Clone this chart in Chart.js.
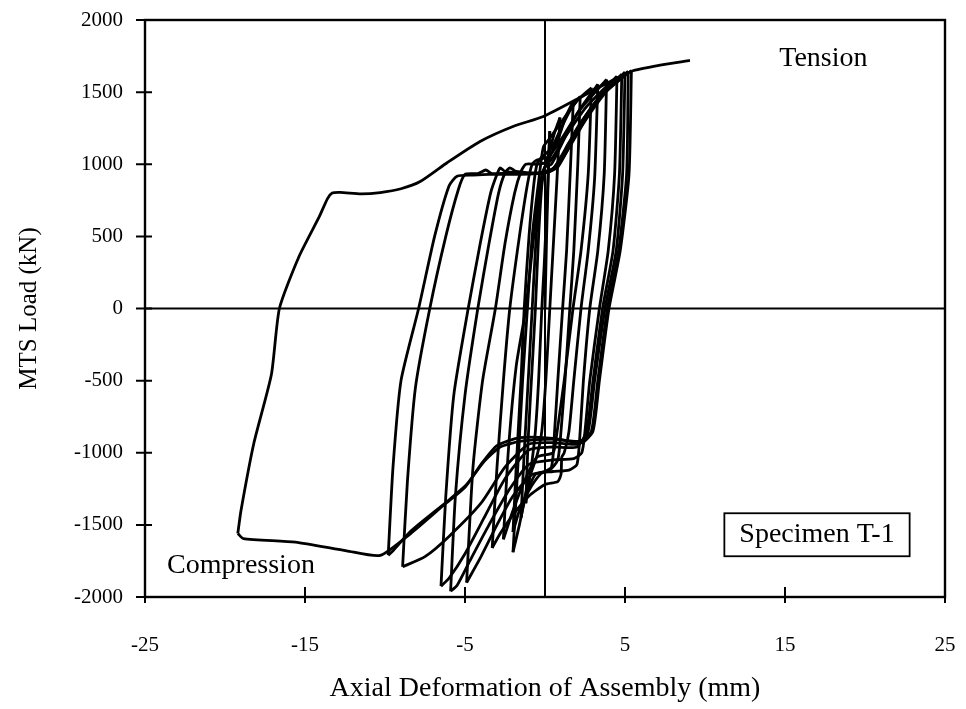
<!DOCTYPE html>
<html><head><meta charset="utf-8">
<script src="https://cdn.jsdelivr.net/npm/chart.js@4/dist/chart.umd.min.js"></script>
<style>html,body{margin:0;padding:0;background:#fff}</style>
</head><body>
<canvas id="c" width="966" height="709"></canvas>
<script>
// axis ticks
const xTicks = [-25, -15, -5, 5, 15, 25];
const yTicks = [-2000, -1500, -1000, -500, 0, 500, 1000, 1500, 2000];

// test record: [deformation (mm), load (kN)] per half cycle
const half01 = [[0,0],[0.1,500],[0.2,900],[0.25,1100],[0.3,1230]];
const half02 = [[0.3,1230],[0.15,800],[-0.05,300],[-0.2,0],[-0.4,-500],[-0.6,-850],[-0.8,-1050],[-1.0,-1200],[-1.2,-1350]];
const half03 = [[-1.2,-1350],[-1.05,-900],[-0.8,-400],[-0.6,0],[-0.4,500],[-0.2,850],[0,980],[0.3,1100],[0.6,1220],[0.94,1324]];
const half04 = [[0.94,1324],[0.75,900],[0.5,400],[0.3,0],[0.05,-500],[-0.2,-850],[-0.5,-1020],[-0.9,-1150],[-1.25,-1300],[-1.5,-1450]];
const half05 = [[-1.5,-1450],[-1.3,-1000],[-1.0,-400],[-0.8,0],[-0.55,500],[-0.3,850],[-0.1,960],[0.3,1050],[0.9,1200],[1.3,1330],[1.77,1438]];
const half06 = [[1.77,1438],[1.6,1000],[1.35,400],[1.1,0],[0.8,-500],[0.6,-850],[0.4,-1100],[-0.3,-1150],[-1.0,-1260],[-1.6,-1400],[-2.0,-1550]];
const half07 = [[-2.0,-1550],[-1.8,-1100],[-1.5,-500],[-1.3,0],[-1.0,500],[-0.7,860],[-0.5,1000],[-0.2,1050],[0.4,1110],[1.0,1250],[1.6,1380],[2.2,1470]];
const half08 = [[2.2,1470],[2.05,1000],[1.8,400],[1.55,0],[1.25,-500],[1.0,-850],[0.8,-1050],[0.3,-1120],[-0.6,-1150],[-1.2,-1300],[-1.6,-1500],[-2.0,-1690]];
const half09 = [[-2.0,-1690],[-1.7,-1100],[-1.4,-500],[-1.1,0],[-0.8,500],[-0.4,880],[-0.1,1120],[0.3,1180],[1.0,1290],[2.0,1440],[2.9,1530]];
const half10 = [[2.9,1530],[2.7,930],[2.25,400],[1.75,0],[1.2,-500],[0.73,-874],[0.5,-1000],[-0.5,-1030],[-1.3,-1200],[-2.0,-1400],[-2.6,-1600]];
const half11 = [[-2.6,-1600],[-2.3,-1000],[-1.8,-400],[-1.2,0],[-0.7,500],[-0.3,850],[0,980],[0.4,1000],[1.0,1130],[2.0,1350],[3.3,1555]];
const half12 = [[3.3,1555],[3.1,900],[2.7,400],[2.25,0],[1.8,-500],[1.5,-850],[1.2,-1000],[1.05,-1030],[1.0,-1150],[0.8,-1200],[0,-1220],[-1.0,-1300],[-2.0,-1430],[-2.8,-1560],[-3.3,-1660]];
const half13 = [[-3.3,-1660],[-3.0,-1100],[-2.6,-500],[-2.2,0],[-1.6,500],[-1.1,860],[-0.8,1000],[-0.5,1030],[0.2,1050],[1.0,1170],[2.2,1380],[3.85,1588]];
const half14 = [[3.85,1588],[3.7,930],[3.3,400],[2.8,0],[2.4,-500],[2.2,-850],[2.0,-1080],[1.5,-1120],[0.5,-1130],[-0.8,-1150],[-2,-1300],[-3,-1500],[-4,-1720],[-4.9,-1900]];
const half15 = [[-4.9,-1900],[-4.5,-1100],[-3.9,-500],[-3.1,0],[-2.5,450],[-1.9,800],[-1.5,950],[-1.2,1000],[-0.5,1000],[0.3,1020],[1.2,1180],[2.6,1400],[4.5,1610]];
const half16 = [[4.5,1610],[4.35,930],[3.95,400],[3.4,0],[2.8,-500],[2.5,-850],[2.3,-1000],[1.8,-1040],[0.5,-1050],[-1,-1080],[-2.2,-1250],[-3.5,-1500],[-4.7,-1750],[-5.5,-1920],[-5.9,-1960]];
const half17 = [[-5.9,-1960],[-5.6,-1300],[-5.0,-600],[-4.2,0],[-3.5,450],[-2.9,800],[-2.5,940],[-2.2,975],[-1.8,950],[-0.5,940],[0.5,970],[1.5,1150],[3,1410],[4.8,1625]];
const half18 = [[4.8,1625],[4.65,930],[4.25,400],[3.6,0],[3.0,-500],[2.6,-850],[2.0,-960],[0.5,-960],[-1,-980],[-2.5,-1180],[-3.8,-1450],[-5.0,-1700],[-6.0,-1870],[-6.5,-1925]];
const half19 = [[-6.5,-1925],[-6.2,-1300],[-5.7,-600],[-4.8,0],[-4.06,444],[-3.4,800],[-3.0,930],[-2.8,975],[-2.5,950],[-1,935],[0.3,950],[1.2,1060],[2.5,1300],[3.8,1500],[5.0,1640]];
const half20 = [[5.0,1640],[4.85,930],[4.45,400],[3.75,0],[3.1,-500],[2.7,-850],[2.1,-940],[0.5,-930],[-1,-940],[-2.5,-1100],[-4,-1350],[-6,-1580],[-7.5,-1720],[-8.9,-1790]];
const half21 = [[-8.9,-1790],[-8.6,-1200],[-8.1,-550],[-7.2,0],[-6.2,500],[-5.4,830],[-5.0,930],[-4.2,935],[-3.7,960],[-3.3,935],[-2,940],[0,940],[0.8,1000],[2,1250],[3.5,1480],[5.2,1645]];
const half22 = [[5.2,1645],[5.1,930],[4.6,400],[3.9,0],[3.3,-500],[2.9,-850],[2.2,-920],[0.5,-905],[-1.5,-920],[-2.8,-960],[-3.8,-1060],[-4.9,-1220],[-6.1,-1336],[-8.4,-1544],[-9.5,-1680],[-9.8,-1710]];
const half23 = [[-9.8,-1710],[-9.5,-1100],[-9.0,-500],[-7.9,0],[-6.9,500],[-6.0,850],[-5.5,917],[-4.5,925],[-3.5,930],[-1.5,930],[0,940],[0.8,980],[2,1220],[3.5,1470],[5.4,1650]];
const half24 = [[5.4,1650],[5.25,930],[4.7,400],[4.0,0],[3.4,-500],[3.0,-850],[2.3,-930],[0.5,-900],[-1.56,-895],[-3.0,-950],[-4.0,-1080],[-5.0,-1240],[-6.3,-1360],[-8.4,-1560],[-10.3,-1712],[-12.4,-1680],[-15.6,-1620],[-18.85,-1595],[-19.2,-1560]];
const half25 = [[-19.2,-1560],[-19.0,-1400],[-18.2,-936],[-17.1,-458],[-16.6,0],[-15.4,354],[-14.1,638],[-13.6,760],[-13.3,800],[-12.8,805],[-11.5,795],[-10.3,804],[-9,830],[-7.8,880],[-6.1,1012],[-4.06,1158],[-2,1262],[-0.1,1331],[2.2,1463],[4,1570],[5.4,1645],[7.2,1687],[9.06,1720]];

const halfCycles = [half01,half02,half03,half04,half05,half06,half07,half08,half09,half10,half11,half12,half13,half14,half15,half16,half17,half18,half19,half20,half21,half22,half23,half24,half25];

// reference lines (zero axes) and annotation texts
const zeroV = [[0,-2000],[0,2000]];
const zeroH = [[-25,0],[25,0]];
const labelTension = {text:'Tension', x:17.4, y:1735};
const labelCompression = {text:'Compression', x:-19.0, y:-1780};
const labelSpecimen = {text:'Specimen T-1', x:17.0, y:-1565};

const FONT = '"Liberation Serif", "Times New Roman", serif';

const datasets = halfCycles.map(h => ({
  data: h.map(p => ({x:p[0], y:p[1]})),
  showLine: true, borderColor:'#000', borderWidth:2.8, pointRadius:0, tension:0.2, fill:false
}));
[zeroV, zeroH].forEach(z => datasets.push({
  data: z.map(p => ({x:p[0], y:p[1]})),
  showLine:true, borderColor:'#000', borderWidth:2, pointRadius:0, tension:0
}));

const decor = {
  id:'decor',
  beforeDatasetsDraw(chart){
    const {ctx, chartArea:a, scales:{x,y}} = chart;
    ctx.save();
    ctx.strokeStyle='#000';
    ctx.lineWidth=2.4;
    ctx.strokeRect(a.left, a.top, a.right-a.left, a.bottom-a.top);
    ctx.lineWidth=2;
    ctx.beginPath();
    yTicks.forEach(v=>{const p=y.getPixelForValue(v); ctx.moveTo(a.left-9,p); ctx.lineTo(a.left+7,p);});
    xTicks.forEach(v=>{const p=x.getPixelForValue(v); ctx.moveTo(p,a.bottom-10); ctx.lineTo(p,a.bottom+6);});
    ctx.stroke();
    ctx.restore();
  },
  afterDatasetsDraw(chart){
    const {ctx, scales:{x,y}} = chart;
    ctx.save();
    ctx.fillStyle='#000';
    ctx.textAlign='center'; ctx.textBaseline='middle';
    ctx.font='28px '+FONT;
    [labelTension, labelCompression, labelSpecimen].forEach(l=>{
      ctx.fillText(l.text, x.getPixelForValue(l.x), y.getPixelForValue(l.y));
    });
    const cx=x.getPixelForValue(labelSpecimen.x), cy=y.getPixelForValue(labelSpecimen.y);
    const w=ctx.measureText(labelSpecimen.text).width+30;
    ctx.lineWidth=1.8; ctx.strokeStyle='#000';
    ctx.strokeRect(cx-w/2, cy-21, w, 43);
    ctx.restore();
  }
};

new Chart(document.getElementById('c'), {
  type:'scatter',
  data:{datasets},
  options:{
    responsive:false, animation:false, devicePixelRatio:1,
    layout:{padding:{left:0, right:21, top:20, bottom:0}},
    plugins:{legend:{display:false}, tooltip:{enabled:false}},
    scales:{
      x:{
        type:'linear', min:-25, max:25,
        afterBuildTicks: s => { s.ticks = xTicks.map(v=>({value:v})); },
        afterFit: s => { s.height = 112; s.paddingLeft = 0; s.paddingRight = 0; },
        grid:{display:false, drawTicks:false},
        border:{display:false},
        ticks:{color:'#000', font:{family:FONT, size:21}, padding:36, maxRotation:0, callback:v=>String(v)},
        title:{display:true, text:'Axial Deformation of Assembly (mm)', color:'#000', font:{family:FONT, size:28}, padding:{top:0,bottom:4}}
      },
      y:{
        type:'linear', min:-2000, max:2000,
        afterBuildTicks: s => { s.ticks = yTicks.map(v=>({value:v})); },
        afterFit: s => { s.width = 145; s.paddingTop = 0; s.paddingBottom = 0; },
        grid:{display:false, drawTicks:false},
        border:{display:false},
        ticks:{color:'#000', font:{family:FONT, size:21}, padding:22, callback:v=>String(v)},
        title:{display:true, text:'MTS Load (kN)', color:'#000', font:{family:FONT, size:25}, padding:{top:14,bottom:0}}
      }
    }
  },
  plugins:[decor]
});
</script>
</body></html>
